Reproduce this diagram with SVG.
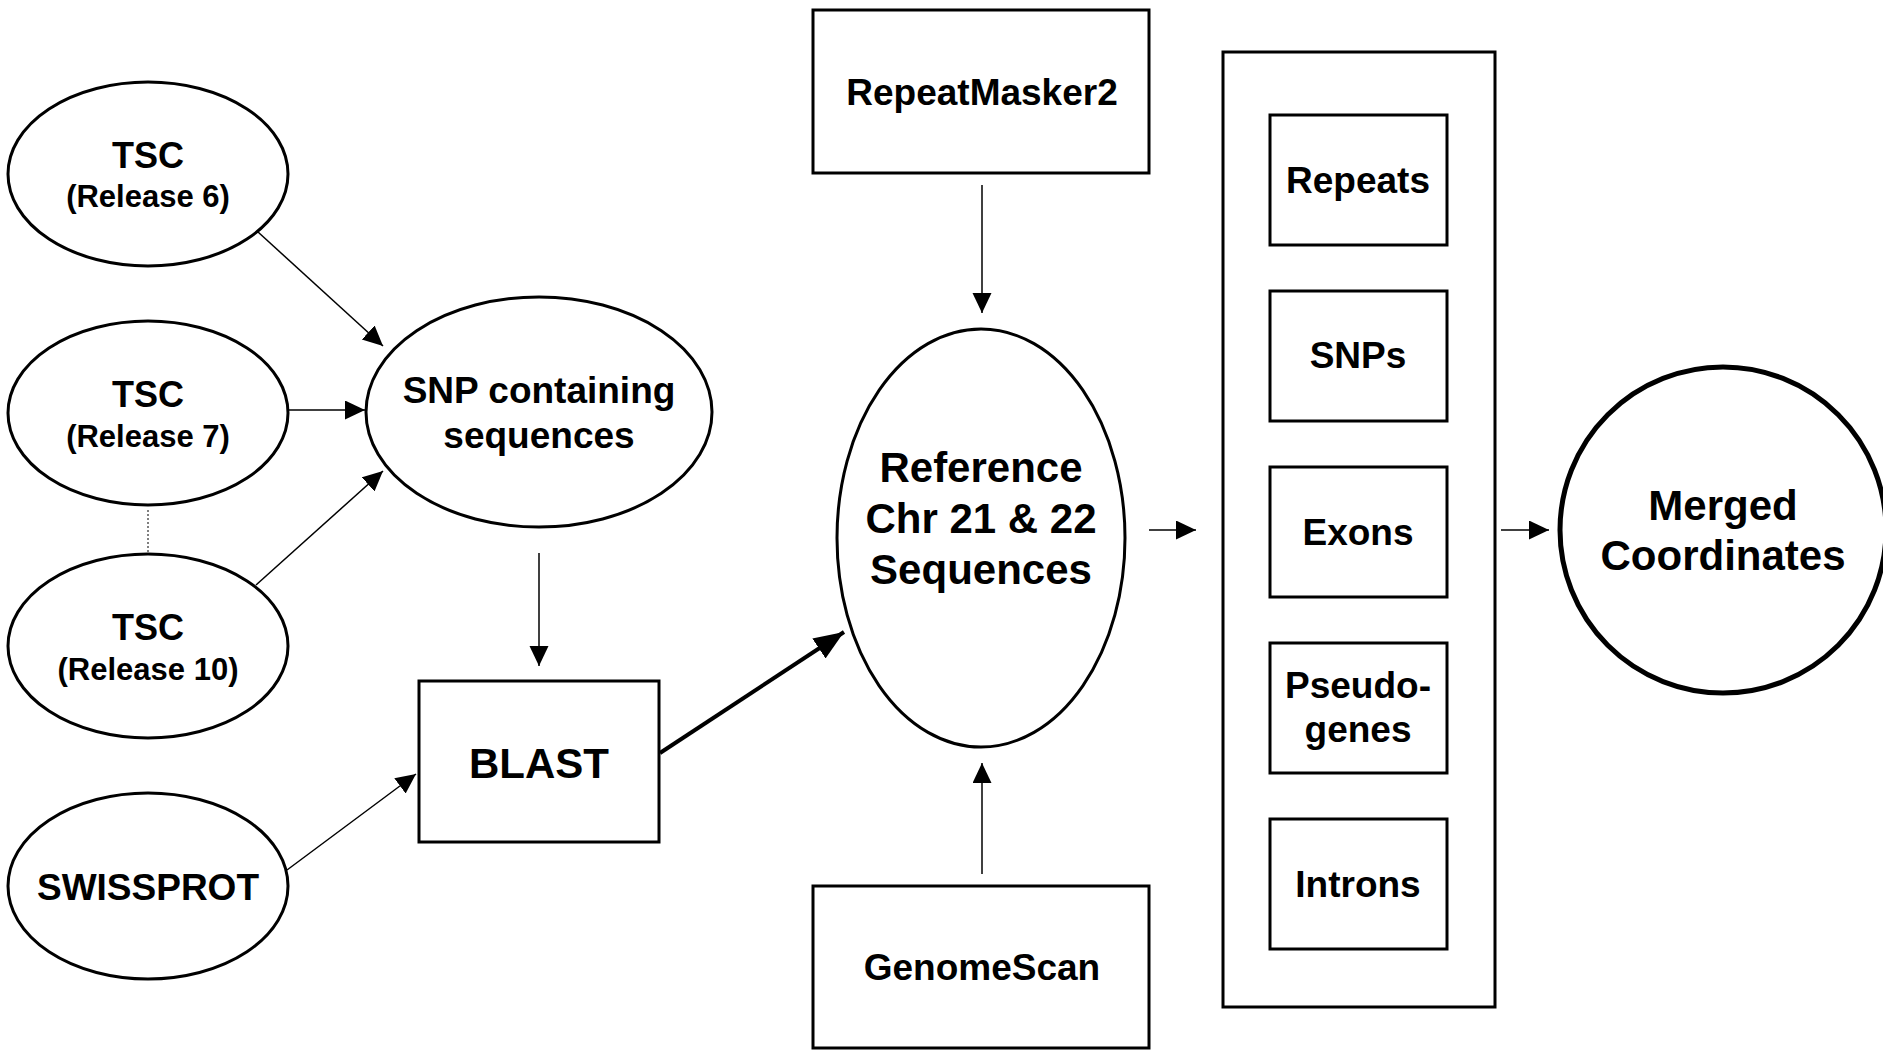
<svg xmlns="http://www.w3.org/2000/svg" width="1883" height="1051" viewBox="0 0 1883 1051">
<style>
.sh{fill:#fff;stroke:#000;stroke-width:3}
.t{font-family:"Liberation Sans",Arial,sans-serif;font-weight:bold;fill:#000;text-anchor:middle}
.c{stroke:#000;stroke-width:1.5;fill:none}
</style>
<defs>
<marker id="ah" markerUnits="userSpaceOnUse" markerWidth="20" markerHeight="20" refX="20" refY="9.5" orient="auto"><path d="M0,0 L20,9.5 L0,19 z" fill="#000"/></marker>
<marker id="ahb" markerUnits="userSpaceOnUse" markerWidth="30" markerHeight="26" refX="30" refY="12" orient="auto"><path d="M0,0 L30,12 L0,24 z" fill="#000"/></marker>
</defs>
<rect width="1883" height="1051" fill="#fff"/>
<g id="tsc6"><ellipse class="sh" cx="148" cy="174" rx="140" ry="92"/><text class="t" x="148" y="168" font-size="36">TSC</text><text class="t" x="148" y="207" font-size="31">(Release 6)</text></g>
<g id="tsc7"><ellipse class="sh" cx="148" cy="413" rx="140" ry="92"/><text class="t" x="148" y="407" font-size="36">TSC</text><text class="t" x="148" y="447" font-size="31">(Release 7)</text></g>
<g id="tsc10"><ellipse class="sh" cx="148" cy="646" rx="140" ry="92"/><text class="t" x="148" y="640" font-size="36">TSC</text><text class="t" x="148" y="680" font-size="31">(Release 10)</text></g>
<g id="swissprot"><ellipse class="sh" cx="148" cy="886" rx="140" ry="93"/><text class="t" x="148" y="900" font-size="37">SWISSPROT</text></g>
<g id="snp"><ellipse class="sh" cx="539" cy="412" rx="173" ry="115"/><text class="t" x="539" y="403" font-size="37">SNP containing</text><text class="t" x="539" y="448" font-size="37">sequences</text></g>
<g id="blast"><rect class="sh" x="419" y="681" width="240" height="161" stroke-width="3.5"/><text class="t" x="539" y="778" font-size="42">BLAST</text></g>
<g id="repeatmasker"><rect class="sh" x="813" y="10" width="336" height="163"/><text class="t" x="982" y="105" font-size="37">RepeatMasker2</text></g>
<g id="reference"><ellipse class="sh" cx="981" cy="538" rx="144" ry="209"/><text class="t" x="981" y="482" font-size="42">Reference</text><text class="t" x="981" y="533" font-size="42">Chr 21 &amp; 22</text><text class="t" x="981" y="584" font-size="42">Sequences</text></g>
<g id="genomescan"><rect class="sh" x="813" y="886" width="336" height="162"/><text class="t" x="982" y="980" font-size="37">GenomeScan</text></g>
<g id="container"><rect class="sh" x="1223" y="52" width="272" height="955"/>
<g id="repeats"><rect class="sh" x="1270" y="115" width="177" height="130"/><text class="t" x="1358" y="193" font-size="37">Repeats</text></g>
<g id="snps"><rect class="sh" x="1270" y="291" width="177" height="130"/><text class="t" x="1358" y="368" font-size="37">SNPs</text></g>
<g id="exons"><rect class="sh" x="1270" y="467" width="177" height="130"/><text class="t" x="1358" y="545" font-size="37">Exons</text></g>
<g id="pseudogenes"><rect class="sh" x="1270" y="643" width="177" height="130"/><text class="t" x="1358" y="698" font-size="37">Pseudo-</text><text class="t" x="1358" y="742" font-size="37">genes</text></g>
<g id="introns"><rect class="sh" x="1270" y="819" width="177" height="130"/><text class="t" x="1358" y="897" font-size="37">Introns</text></g>
</g>
<g id="merged"><circle cx="1723" cy="530" r="163" fill="#fff" stroke="#000" stroke-width="5"/><text class="t" x="1723" y="520" font-size="42">Merged</text><text class="t" x="1723" y="570" font-size="42">Coordinates</text></g>
<g id="connectors">
<line class="c" x1="258" y1="232" x2="383" y2="346" marker-end="url(#ah)"/>
<line class="c" x1="288" y1="410" x2="365" y2="410" marker-end="url(#ah)"/>
<line class="c" x1="256" y1="585" x2="383" y2="471" marker-end="url(#ah)"/>
<line x1="148" y1="510" x2="148" y2="552" stroke="#000" stroke-width="1" stroke-dasharray="2,2"/>
<line class="c" x1="539" y1="553" x2="539" y2="666" marker-end="url(#ah)"/>
<line class="c" x1="287" y1="870" x2="416" y2="774" marker-end="url(#ah)"/>
<line x1="660" y1="753" x2="844" y2="632" stroke="#000" stroke-width="4" marker-end="url(#ahb)"/>
<line class="c" x1="982" y1="185" x2="982" y2="313" marker-end="url(#ah)"/>
<line class="c" x1="982" y1="874" x2="982" y2="763" marker-end="url(#ah)"/>
<line class="c" x1="1149" y1="530" x2="1196" y2="530" marker-end="url(#ah)"/>
<line class="c" x1="1501" y1="530" x2="1549" y2="530" marker-end="url(#ah)"/>
</g>
</svg>
